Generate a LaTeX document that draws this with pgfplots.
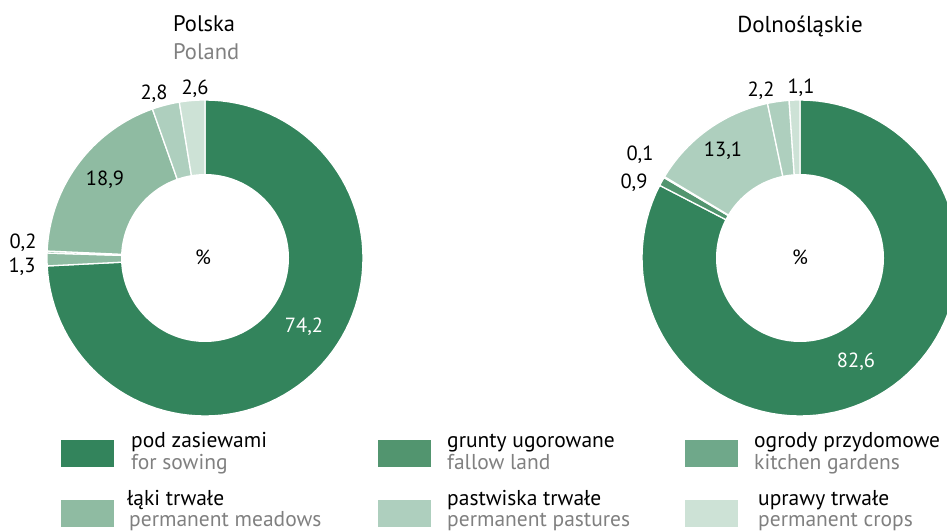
\documentclass[border=0pt]{standalone}
\usepackage{pgfplots}
\pgfplotsset{compat=1.18}
\usepackage{fontspec}
\setmainfont{PT Sans}
\definecolor{sow}{HTML}{33845C}
\definecolor{fal}{HTML}{52956F}
\definecolor{kit}{HTML}{6FA88A}
\definecolor{mea}{HTML}{8FBBA2}
\definecolor{pas}{HTML}{AECFBE}
\definecolor{cro}{HTML}{CDE2D6}
\definecolor{engl}{HTML}{808080}
% segment: center x, center y, cumulative start (%), value (%), colour
\newcommand\seg[5]{%
  \addplot[fill=#5, draw=white, line width=1.3pt, domain={90-3.6*(#3+#4)}:{90-3.6*(#3)}, samples=90, variable=\t]
    ({#1+158*cos(\t)},{#2+158*sin(\t)}) -- (axis cs:#1,#2) -- cycle;}
\newcommand\hole[2]{%
  \addplot[fill=white, draw=none, domain=0:360, samples=160, variable=\t]
    ({#1+84*cos(\t)},{#2+84*sin(\t)}) -- cycle;}
\newcommand\lab[4][black]{\node[anchor=base, inner sep=0pt, text=#1, font=\fontsize{20.5}{24}\selectfont] at (axis cs:#2,{531-#3}) {#4};}
\begin{document}
\begin{tikzpicture}
\begin{axis}[width=947pt, height=531pt, scale only axis, xmin=0, xmax=947, ymin=0, ymax=531, hide axis, clip=true]
% Polska: 74.2, 1.3, 0.2, 18.9, 2.8, 2.6
\seg{205}{273}{0}{74.2}{sow}
\seg{205}{273}{74.2}{1.3}{mea}
\seg{205}{273}{75.5}{0.2}{mea}
\seg{205}{273}{75.7}{18.9}{mea}
\seg{205}{273}{94.6}{2.8}{pas}
\seg{205}{273}{97.4}{2.6}{cro}
\hole{205}{273}
% Dolnoslaskie: 82.6, 0.9, 0.1, 13.1, 2.2, 1.1
\seg{800}{273}{0}{82.6}{sow}
\seg{800}{273}{82.6}{0.9}{fal}
\seg{800}{273}{83.5}{0.1}{kit}
\seg{800}{273}{83.6}{13.1}{pas}
\seg{800}{273}{96.7}{2.2}{pas}
\seg{800}{273}{98.9}{1.1}{cro}
\hole{800}{273}
% titles
\node[anchor=base west, inner sep=0pt, font=\fontsize{22.5}{26}\selectfont] at (axis cs:173,{531-32}) {Polska};
\node[anchor=base west, inner sep=0pt, text=engl, font=\fontsize{22.5}{26}\selectfont] at (axis cs:173,{531-60}) {Poland};
\node[anchor=base, inner sep=0pt, font=\fontsize{23}{26}\selectfont] at (axis cs:800,{531-33}) {Dolnośląskie};
% value labels
\lab{154}{100}{2,8}
\lab{195}{95}{2,6}
\lab{105}{185}{18,9}
\lab{23}{248}{0,2}
\lab{22}{272}{1,3}
\lab{203}{264}{\%}
\lab[white]{304}{332}{74,2}
\lab{761}{97}{2,2}
\lab{801}{94}{1,1}
\lab{723}{157}{13,1}
\lab{640}{160}{0,1}
\lab{634}{188}{0,9}
\lab{800}{264}{\%}
\lab[white]{856}{367}{82,6}
% legend
\fill[sow] (axis cs:61,{531-440}) rectangle (axis cs:114,{531-467});
\fill[fal] (axis cs:378,{531-440}) rectangle (axis cs:431,{531-467});
\fill[kit] (axis cs:685,{531-440}) rectangle (axis cs:738,{531-467});
\fill[mea] (axis cs:61,{531-500}) rectangle (axis cs:114,{531-527});
\fill[pas] (axis cs:378,{531-500}) rectangle (axis cs:431,{531-527});
\fill[cro] (axis cs:685,{531-500}) rectangle (axis cs:738,{531-527});
\begin{scope}[every node/.style={anchor=base west, inner sep=0pt, font=\fontsize{21.5}{24}\selectfont}]
\node at (axis cs:131,{531-447}) {pod zasiewami};
\node[text=engl] at (axis cs:131,{531-469}) {for sowing};
\node at (axis cs:447,{531-447}) {grunty ugorowane};
\node[text=engl] at (axis cs:447,{531-469}) {fallow land};
\node at (axis cs:754,{531-447}) {ogrody przydomowe};
\node[text=engl] at (axis cs:754,{531-469}) {kitchen gardens};
\node at (axis cs:127,{531-505}) {łąki trwałe};
\node[text=engl] at (axis cs:129,{531-526}) {permanent meadows};
\node at (axis cs:447,{531-505}) {pastwiska trwałe};
\node[text=engl] at (axis cs:447,{531-526}) {permanent pastures};
\node at (axis cs:758,{531-505}) {uprawy trwałe};
\node[text=engl] at (axis cs:758,{531-526}) {permanent crops};
\end{scope}
\end{axis}
\pgfresetboundingbox
\useasboundingbox (current axis.south west) rectangle (current axis.north east);
\end{tikzpicture}
\end{document}
